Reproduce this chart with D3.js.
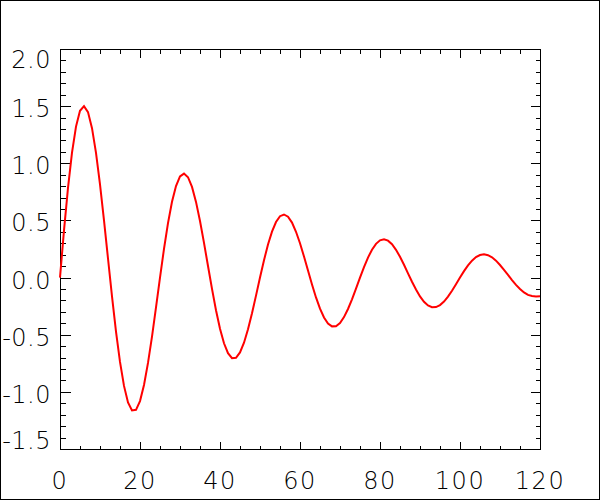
<!DOCTYPE html>
<html>
<head>
<meta charset="utf-8">
<script src="https://cdnjs.cloudflare.com/ajax/libs/d3/7.8.5/d3.min.js"></script>
<style>
  body { margin: 0; background: #fff; }
  .lbl { font-family: "DejaVu Sans", sans-serif; font-weight: 200; font-size: 24px; fill: #000; }
</style>
</head>
<body>
<div id="container"></div>
<script>
// one sample per x unit, x = 0 .. 120
var yValues = [
  0.000, 0.413, 0.785, 1.093, 1.321, 1.459, 1.500, 1.448, 1.307, 1.091,
  0.816, 0.501, 0.167, -0.164, -0.472, -0.738, -0.948, -1.092, -1.162, -1.157,
  -1.081, -0.940, -0.747, -0.516, -0.261, 0.000, 0.251, 0.476, 0.663, 0.801,
  0.885, 0.910, 0.878, 0.793, 0.662, 0.495, 0.304, 0.101, -0.099, -0.286,
  -0.448, -0.575, -0.662, -0.705, -0.702, -0.655, -0.570, -0.453, -0.313, -0.158,
  0.000, 0.152, 0.289, 0.402, 0.486, 0.537, 0.552, 0.533, 0.481, 0.401,
  0.300, 0.184, 0.062, -0.060, -0.174, -0.272, -0.349, -0.402, -0.427, -0.426,
  -0.398, -0.346, -0.275, -0.190, -0.096, 0.000, 0.092, 0.175, 0.244, 0.295,
  0.326, 0.335, 0.323, 0.292, 0.243, 0.182, 0.112, 0.037, -0.037, -0.105,
  -0.165, -0.212, -0.244, -0.259, -0.258, -0.241, -0.210, -0.167, -0.115, -0.058,
  0.000, 0.056, 0.106, 0.148, 0.179, 0.197, 0.203, 0.196, 0.177, 0.148,
  0.110, 0.068, 0.023, -0.022, -0.064, -0.100, -0.130, -0.152, -0.162, -0.165,
  -0.164
];
var xTickValues = [0, 20, 40, 60, 80, 100, 120];
var xTickLabels = ["0", "20", "40", "60", "80", "100", "120"];
var yTickValues = [-1.5, -1.0, -0.5, 0.0, 0.5, 1.0, 1.5, 2.0];
var yTickLabels = ["-1.5", "-1.0", "-0.5", "0.0", "0.5", "1.0", "1.5", "2.0"];

var W = 600, H = 500;
var pLeft = 60, pRight = 540, pTop = 49, pBottom = 449;

var svg = d3.select("#container").append("svg")
  .attr("width", W).attr("height", H)
  .attr("viewBox", "0 0 " + W + " " + H);

svg.append("rect")
  .attr("x", 0.5).attr("y", 0.5).attr("width", W - 1).attr("height", H - 1)
  .attr("fill", "#fff").attr("stroke", "#000").attr("shape-rendering", "crispEdges");

var x = d3.scaleLinear().domain([0, 120]).range([pLeft, pRight]);
var y = d3.scaleLinear().domain([-1.5, 2.0]).range([pBottom, pTop]);

var minorX = d3.range(0, 121, 5).filter(function(v) { return v % 20 !== 0; });
var minorY = d3.range(-15, 21, 1).filter(function(v) { return v % 5 !== 0; }).map(function(v) { return v / 10; });

function tickAxis(axis, vals, size, tx, ty) {
  var g = svg.append("g")
    .attr("transform", "translate(" + tx + "," + ty + ")")
    .call(axis.tickValues(vals).tickSizeInner(size).tickSizeOuter(0).tickFormat(""));
  g.select(".domain").remove();
  g.selectAll("line").attr("stroke", "#000").attr("shape-rendering", "crispEdges");
  g.selectAll("text").remove();
  return g;
}

// inward ticks on all four sides
tickAxis(d3.axisBottom(x), xTickValues, -8, 0, pBottom + 0.5);
tickAxis(d3.axisBottom(x), minorX, -4, 0, pBottom + 0.5);
tickAxis(d3.axisTop(x), xTickValues, -8, 0, pTop + 0.5);
tickAxis(d3.axisTop(x), minorX, -4, 0, pTop + 0.5);
tickAxis(d3.axisLeft(y), yTickValues, -10, pLeft + 0.5, 0);
tickAxis(d3.axisLeft(y), minorY, -5, pLeft + 0.5, 0);
tickAxis(d3.axisRight(y), yTickValues, -10, pRight + 0.5, 0);
tickAxis(d3.axisRight(y), minorY, -5, pRight + 0.5, 0);

svg.append("rect")
  .attr("x", pLeft + 0.5).attr("y", pTop + 0.5)
  .attr("width", pRight - pLeft).attr("height", pBottom - pTop)
  .attr("fill", "none").attr("stroke", "#000").attr("shape-rendering", "crispEdges");

// tick labels
svg.selectAll(".xl").data(xTickValues).enter().append("text")
  .attr("class", "lbl")
  .attr("x", function(d) { return x(d); })
  .attr("y", 489)
  .attr("text-anchor", "middle")
  .style("letter-spacing", "1.5px")
  .text(function(d, i) { return xTickLabels[i]; });

svg.selectAll(".yl").data(yTickValues).enter().append("text")
  .attr("class", "lbl")
  .attr("x", 51)
  .attr("y", function(d) { return Math.max(pTop + 19, Math.min(pBottom, y(d) + 11)); })
  .attr("text-anchor", "end")
  .style("letter-spacing", "0.5px")
  .text(function(d, i) { return yTickLabels[i]; });

var line = d3.line()
  .x(function(d, i) { return x(i); })
  .y(function(d) { return y(d); });

svg.append("path")
  .datum(yValues)
  .attr("d", line)
  .attr("fill", "none")
  .attr("stroke", "#ff0000")
  .attr("stroke-width", 2);
</script>
</body>
</html>
